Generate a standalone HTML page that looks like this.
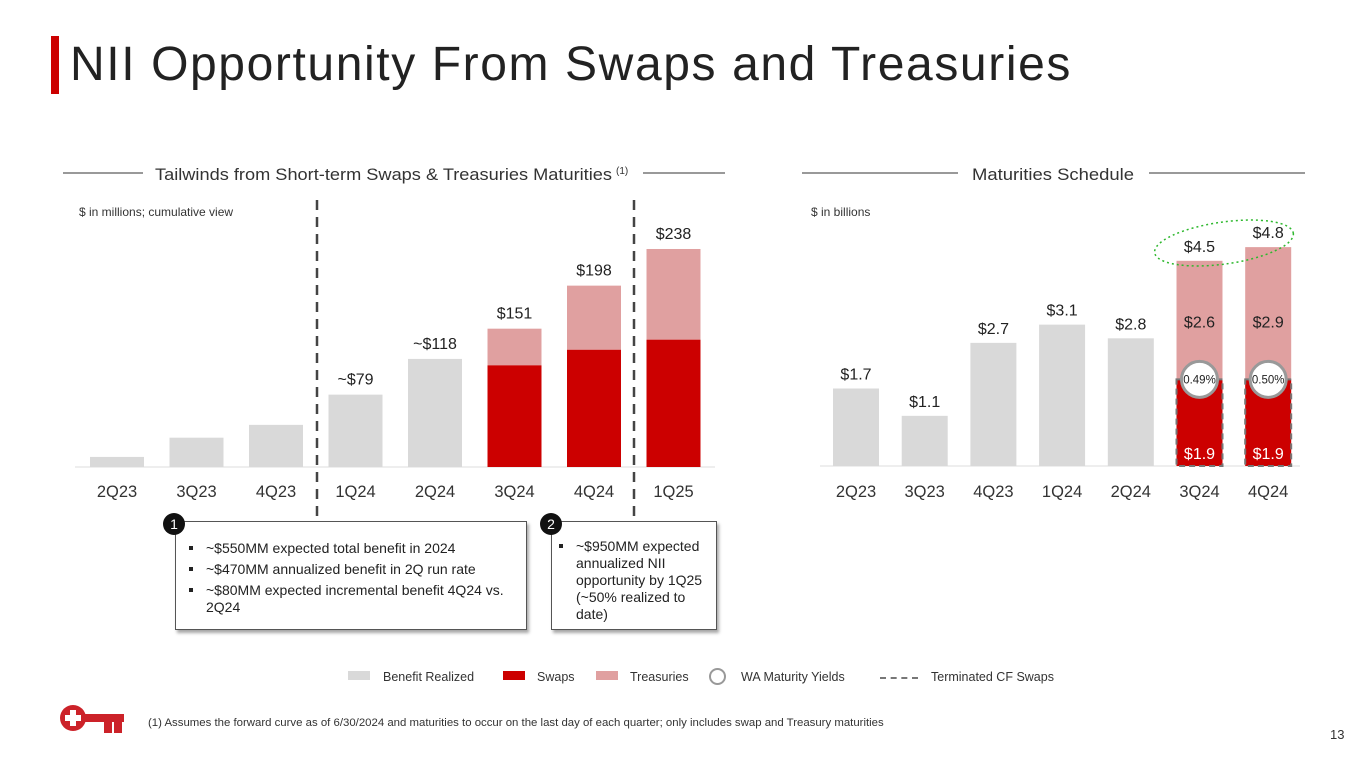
<!DOCTYPE html>
<html><head><meta charset="utf-8"><style>
body{margin:0;width:1365px;height:768px;background:#fff;font-family:"Liberation Sans",sans-serif;position:relative;overflow:hidden}
.abs{position:absolute}
.box{position:absolute;border:1px solid #555;background:#fff;box-shadow:2px 3px 3px rgba(0,0,0,.35);font-size:14px;color:#222;line-height:17px}
.box ul{margin:0;padding:0;list-style:none}
.box li{position:relative;padding-left:22px;margin-bottom:4px}
.box li:before{content:"";position:absolute;left:5px;top:6px;width:4px;height:4px;background:#222}
.num{position:absolute;width:22px;height:22px;border-radius:50%;background:#111;color:#fff;font-size:14px;text-align:center;line-height:22px}
</style></head><body>
<div class="abs" style="left:51px;top:36px;width:8px;height:58px;background:#cc0000"></div>
<div class="abs" style="left:70px;top:37px;font-size:48px;color:#222;letter-spacing:1.6px">NII Opportunity From Swaps and Treasuries</div>

<svg class="abs" style="left:0;top:0" width="1365" height="768">
<g id="left"></g>
<g id="right"></g>
</svg>

<div class="box" style="left:175px;top:521px;width:350px;height:107px">
<ul style="margin-top:18px;margin-left:8px;margin-right:12px"><li>~$550MM expected total benefit in 2024</li><li>~$470MM annualized benefit in 2Q run rate</li><li>~$80MM expected incremental benefit 4Q24 vs. 2Q24</li></ul></div>
<div class="num" style="left:163px;top:513px">1</div>
<div class="box" style="left:551px;top:521px;width:164px;height:107px">
<ul style="margin-top:16px;margin-left:2px;margin-right:8px"><li style="line-height:17px">~$950MM expected annualized NII opportunity by 1Q25 (~50% realized to date)</li></ul></div>
<div class="num" style="left:540px;top:513px">2</div>

<div class="abs" style="left:0;top:670px;width:1365px;font-size:12.5px;color:#333">
<div class="abs" style="left:348px;top:1px;width:22px;height:9px;background:#d9d9d9"></div><div class="abs" style="left:383px;top:0">Benefit Realized</div>
<div class="abs" style="left:503px;top:1px;width:22px;height:9px;background:#cc0000"></div><div class="abs" style="left:537px;top:0">Swaps</div>
<div class="abs" style="left:596px;top:1px;width:22px;height:9px;background:#e0a0a0"></div><div class="abs" style="left:630px;top:0">Treasuries</div>
<div class="abs" style="left:709px;top:-2px;width:17px;height:17px;border:2px solid #999;border-radius:50%;box-sizing:border-box"></div><div class="abs" style="left:741px;top:0">WA Maturity Yields</div>
<div class="abs" style="left:880px;top:7px;width:38px;border-top:2px dashed #777"></div><div class="abs" style="left:931px;top:0">Terminated CF Swaps</div>
</div>

<svg class="abs" style="left:57px;top:702px" width="70" height="32">
<circle cx="16" cy="16" r="13" fill="#cc2229"/><path d="M13 8h6v5h5v6h-5v5h-6v-5h-5v-6h5z" fill="#fff"/>
<rect x="27" y="12" width="40" height="8" fill="#cc2229"/><rect x="47" y="20" width="8" height="11" fill="#cc2229"/><rect x="57" y="20" width="8" height="11" fill="#cc2229"/></svg>
<div class="abs" style="left:148px;top:717px;font-size:11.4px;color:#333">(1) Assumes the forward curve as of 6/30/2024 and maturities to occur on the last day of each quarter; only includes swap and Treasury maturities</div>
<div class="abs" style="left:1330px;top:727px;font-size:13px;color:#333">13</div>

<script>
const lCats=["2Q23","3Q23","4Q23","1Q24","2Q24","3Q24","4Q24","1Q25"];
const lTotal=[11,32,46,79,118,151,198,238];
const lSwaps=[0,0,0,0,0,111,128,139];
const lLabels=["","","","~$79","~$118","$151","$198","$238"];
const rCats=["2Q23","3Q23","4Q23","1Q24","2Q24","3Q24","4Q24"];
const rTotal=[1.7,1.1,2.7,3.1,2.8,4.5,4.8];
const rSwaps=[0,0,0,0,0,1.9,1.9];
const rTreas=[0,0,0,0,0,2.6,2.9];
const rYields=["","","","","","0.49%","0.50%"];
const NS="http://www.w3.org/2000/svg";
function mk(p,t,a,txt){const e=document.createElementNS(NS,t);for(const k in a)e.setAttribute(k,a[k]);if(txt!=null)e.textContent=txt;p.appendChild(e);return e;}
const L=document.getElementById('left'),R=document.getElementById('right');
const lY=v=>467-v*0.916, lX=i=>90+i*79.5, lW=54;
const rY=v=>466-v*45.6, rX=i=>833+i*68.7, rW=46;
mk(L,'line',{x1:63,y1:173,x2:143,y2:173,stroke:'#333'});mk(L,'line',{x1:643,y1:173,x2:725,y2:173,stroke:'#333'});
let h=mk(L,'text',{x:155,y:180,'font-size':16.5,fill:'#333',textLength:457,lengthAdjust:'spacingAndGlyphs'},'Tailwinds from Short-term Swaps & Treasuries Maturities');

mk(L,'text',{x:616,y:174,'font-size':10,fill:'#333'},'(1)');
mk(L,'text',{x:79,y:216,'font-size':12,fill:'#333'},'$ in millions; cumulative view');
mk(L,'line',{x1:75,y1:467,x2:715,y2:467,stroke:'#ddd'});
lCats.forEach((c,i)=>{
  const x=lX(i);
  if(lSwaps[i]>0){
    let t=mk(L,'rect',{x:x,y:lY(lTotal[i]),width:lW,height:lY(lSwaps[i])-lY(lTotal[i]),fill:'#e0a0a0'});
    
    let s=mk(L,'rect',{x:x,y:lY(lSwaps[i]),width:lW,height:467-lY(lSwaps[i]),fill:'#cc0000'});
    
  } else {
    let b=mk(L,'rect',{x:x,y:lY(lTotal[i]),width:lW,height:467-lY(lTotal[i]),fill:'#d9d9d9'});
    
  }
  if(lLabels[i])mk(L,'text',{x:x+lW/2,y:lY(lTotal[i])-10,'font-size':16,fill:'#222','text-anchor':'middle'},lLabels[i]);
  mk(L,'text',{x:x+lW/2,y:497,'font-size':16.5,fill:'#333','text-anchor':'middle'},c);
});
[317,634].forEach(x=>{let d=mk(L,'line',{x1:x,y1:200,x2:x,y2:521,stroke:'#444','stroke-width':2.5,'stroke-dasharray':'10,7'});});
mk(R,'line',{x1:802,y1:173,x2:958,y2:173,stroke:'#333'});mk(R,'line',{x1:1149,y1:173,x2:1305,y2:173,stroke:'#333'});
let h2=mk(R,'text',{x:972,y:180,'font-size':16.5,fill:'#333',textLength:162,lengthAdjust:'spacingAndGlyphs'},'Maturities Schedule');

mk(R,'text',{x:811,y:216,'font-size':12,fill:'#333'},'$ in billions');
mk(R,'line',{x1:820,y1:466,x2:1300,y2:466,stroke:'#ddd'});
rCats.forEach((c,i)=>{
  const x=rX(i);
  if(rSwaps[i]>0){
    let t=mk(R,'rect',{x:x,y:rY(rTotal[i]),width:rW,height:rY(rSwaps[i])-rY(rTotal[i]),fill:'#e0a0a0'});
    
    let s=mk(R,'rect',{x:x,y:rY(rSwaps[i]),width:rW,height:466-rY(rSwaps[i]),fill:'#cc0000',stroke:'#777','stroke-width':2,'stroke-dasharray':'6,4'});
    
    mk(R,'text',{x:x+rW/2,y:rY(rSwaps[i])-52,'font-size':16,fill:'#222','text-anchor':'middle'},'$'+rTreas[i].toFixed(1));
    mk(R,'text',{x:x+rW/2,y:459,'font-size':16,fill:'#fff','text-anchor':'middle'},'$'+rSwaps[i].toFixed(1));
    let cc=mk(R,'circle',{cx:x+rW/2,cy:rY(rSwaps[i]),r:18,fill:'#fff',stroke:'#999','stroke-width':3});
    
    mk(R,'text',{x:x+rW/2,y:rY(rSwaps[i])+4,'font-size':11.5,fill:'#222','text-anchor':'middle'},rYields[i]);
  } else {
    let b=mk(R,'rect',{x:x,y:rY(rTotal[i]),width:rW,height:466-rY(rTotal[i]),fill:'#d9d9d9'});
    
  }
  mk(R,'text',{x:x+rW/2,y:rY(rTotal[i])-9,'font-size':16,fill:'#222','text-anchor':'middle'},'$'+rTotal[i].toFixed(1));
  mk(R,'text',{x:x+rW/2,y:497,'font-size':16.5,fill:'#333','text-anchor':'middle'},c);
});
let el=mk(R,'ellipse',{cx:1224,cy:243,rx:70,ry:21,fill:'none',stroke:'#2eb82e','stroke-width':1.5,'stroke-dasharray':'2,3',transform:'rotate(-8 1224 243)'});

</script>
</body></html>
